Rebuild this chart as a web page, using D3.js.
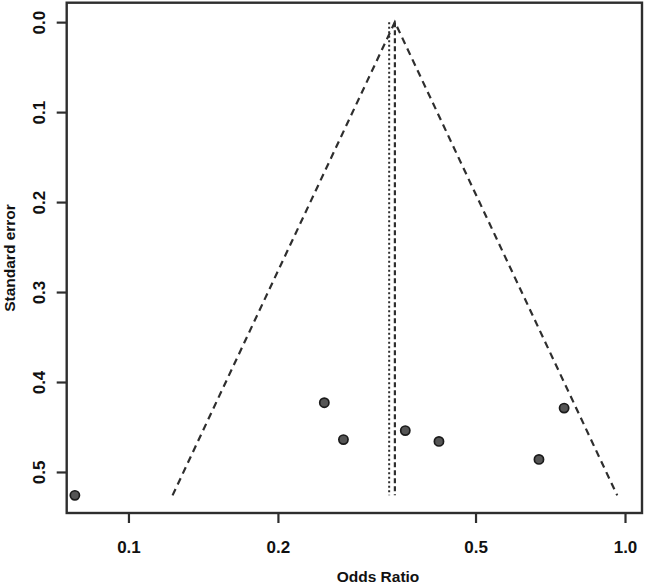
<!DOCTYPE html>
<html>
<head>
<meta charset="utf-8">
<script src="https://cdn.jsdelivr.net/npm/d3@7"></script>
<style>
  body { margin: 0; background: #fff; }
  text { font-family: "Liberation Sans", Arial, sans-serif; font-weight: bold; fill: #111; }
</style>
</head>
<body>
<svg width="645" height="586"></svg>
<script>
// study estimates
var studyOR = [0.078, 0.248, 0.271, 0.361, 0.422, 0.671, 0.754];
var studySE = [0.526, 0.423, 0.464, 0.454, 0.466, 0.486, 0.429];

// pooled estimates (fixed = funnel centre, random = dotted line)
var fixedOR = 0.344,
    randomOR = 0.335;

var xTicks = [0.1, 0.2, 0.5, 1.0];
var yTicks = [0, 0.1, 0.2, 0.3, 0.4, 0.5];

var svg = d3.select("svg"),
    width = +svg.attr("width"),
    height = +svg.attr("height");

var margin = {top: 2.7, right: 3, bottom: 73, left: 66.7};

var x = d3.scaleLog()
    .domain([0.0751, 1.082])
    .range([margin.left, width - margin.right]);

var y = d3.scaleLinear()
    .domain([-0.0216, 0.5456])
    .range([margin.top, height - margin.bottom]);

var ink = "#2e2e2e";

var points = studyOR.map(function(d, i) { return {or: d, se: studySE[i]}; });
var seMax = d3.max(studySE);

// funnel: 95% limits around the fixed effect estimate
var lnC = Math.log(fixedOR);
var funnel = [
  [Math.exp(lnC - 1.96 * seMax), seMax],
  [fixedOR, 0],
  [Math.exp(lnC + 1.96 * seMax), seMax]
];

svg.append("path")
    .datum(funnel)
    .attr("fill", "none")
    .attr("stroke", ink)
    .attr("stroke-width", 2.2)
    .attr("stroke-dasharray", "7,5")
    .attr("d", d3.line()
      .x(function(d) { return x(d[0]); })
      .y(function(d) { return y(d[1]); }));

// vertical reference lines
svg.append("line")
    .attr("x1", x(fixedOR)).attr("x2", x(fixedOR))
    .attr("y1", y(0)).attr("y2", y(seMax))
    .attr("stroke", ink)
    .attr("stroke-width", 2.2)
    .attr("stroke-dasharray", "5,3");

svg.append("line")
    .attr("x1", x(randomOR)).attr("x2", x(randomOR))
    .attr("y1", y(0)).attr("y2", y(seMax))
    .attr("stroke", ink)
    .attr("stroke-width", 2)
    .attr("stroke-dasharray", "2,2.5");

svg.append("g")
  .selectAll("circle")
  .data(points)
  .enter().append("circle")
    .attr("cx", function(d) { return x(d.or); })
    .attr("cy", function(d) { return y(d.se); })
    .attr("r", 4.6)
    .attr("fill", "#555")
    .attr("stroke", "#1a1a1a")
    .attr("stroke-width", 1.7);

// box
svg.append("rect")
    .attr("x", margin.left)
    .attr("y", margin.top)
    .attr("width", width - margin.left - margin.right)
    .attr("height", height - margin.top - margin.bottom)
    .attr("fill", "none")
    .attr("stroke", ink)
    .attr("stroke-width", 2.4);

// axes
var xAxis = svg.append("g")
    .attr("transform", "translate(0," + (height - margin.bottom) + ")")
    .call(d3.axisBottom(x).tickValues(xTicks).tickFormat(d3.format(".1f")).tickSize(10).tickPadding(18));
xAxis.select(".domain").remove();
xAxis.selectAll("line").attr("stroke", ink).attr("stroke-width", 2.2);
xAxis.selectAll("text").attr("font-size", 17).attr("fill", "#111");

var yAxis = svg.append("g")
    .attr("transform", "translate(" + margin.left + ",0)")
    .call(d3.axisLeft(y).tickValues(yTicks).tickFormat(d3.format(".1f")).tickSize(10));
yAxis.select(".domain").remove();
yAxis.selectAll("line").attr("stroke", ink).attr("stroke-width", 2.2);
yAxis.selectAll("text")
    .attr("font-size", 17)
    .attr("fill", "#111")
    .attr("text-anchor", "middle")
    .attr("dy", null)
    .attr("x", null)
    .attr("transform", "translate(-22,0) rotate(-90)");

svg.append("text")
    .attr("x", 378)
    .attr("y", 582)
    .attr("text-anchor", "middle")
    .attr("font-size", 15.5)
    .text("Odds Ratio");

svg.append("text")
    .attr("transform", "translate(15,258) rotate(-90)")
    .attr("text-anchor", "middle")
    .attr("font-size", 15.5)
    .text("Standard error");
</script>
</body>
</html>
